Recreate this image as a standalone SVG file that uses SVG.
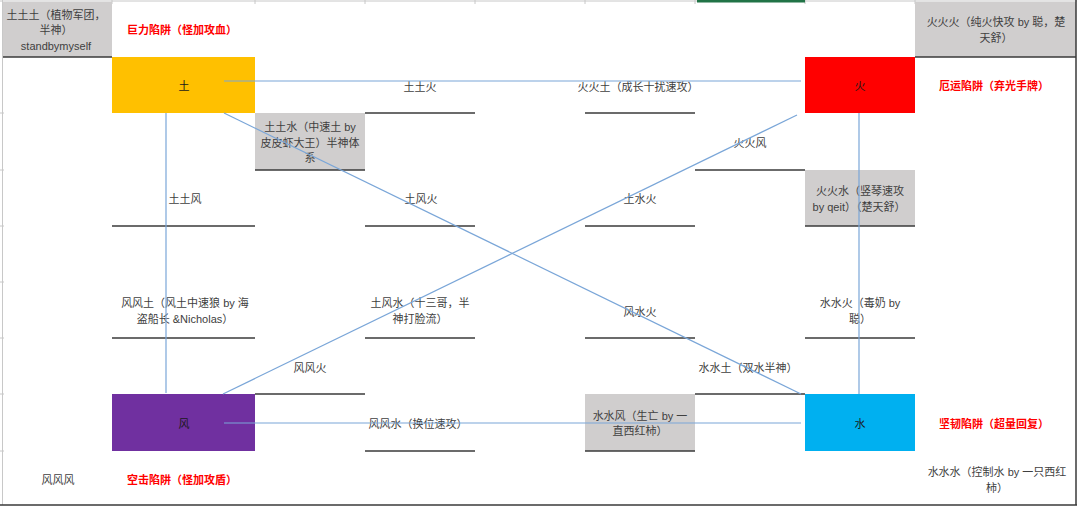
<svg xmlns="http://www.w3.org/2000/svg" width="1080" height="507" viewBox="0 0 1080 507">
<style>
.t{font-family:"Liberation Sans","Noto Sans CJK SC",sans-serif;font-size:11px;fill:#404040;text-anchor:middle}
.r{font-family:"Liberation Sans","Noto Sans CJK SC",sans-serif;font-size:11px;fill:#ff0000;font-weight:bold;text-anchor:middle}
.k{font-family:"Liberation Sans","Noto Sans CJK SC",sans-serif;font-size:11px;fill:#1a1a1a;text-anchor:middle}
.g{fill:#d0cece}
.b{stroke:#3a3a3a;stroke-width:1.5;fill:none}
.c{stroke:#7aa6d8;stroke-width:1.2;fill:none}
.grid{stroke:#c8c8c8;stroke-width:1;fill:none}
</style>
<rect x="0" y="0" width="1080" height="507" fill="#ffffff"/>
<g id="grid">
<line class="grid" x1="0" y1="1" x2="1077" y2="1"/>
<line class="grid" x1="2.5" y1="0" x2="2.5" y2="505"/>
<path class="grid" d="M112,0V4M255,0V4M365,0V4M475,0V4M585,0V4M695,0V4M805,0V4M915,0V4M0,113H4M0,170H4M0,226H4M0,282H4M0,338H4M0,394H4M0,451H4"/>
<rect x="697" y="0" width="108" height="2.5" fill="#217346"/>
</g>
<g id="A1"><rect class="g" x="3" y="2" width="109" height="55"/><line class="b" x1="3" y1="57" x2="112" y2="57"/>
<text class="t" x="56" y="19">土土土（植物军团，</text><text class="t" x="56" y="34">半神）</text><text class="t" x="56" y="50">standbymyself</text></g>
<g id="B1"><text class="r" x="182" y="34">巨力陷阱（怪加攻血）</text></g>
<g id="earth"><rect x="112" y="57" width="143" height="56" fill="#ffc000"/><text class="k" x="184" y="90">土</text></g>
<g id="D2"><line class="b" x1="365" y1="113" x2="475" y2="113"/><text class="t" x="420" y="91">土土火</text></g>
<g id="F2"><line class="b" x1="585" y1="113" x2="695" y2="113"/><text class="t" x="638" y="91">火火土（成长十扰速攻）</text></g>
<g id="fire"><rect x="805" y="57" width="110" height="56" fill="#ff0000"/><text class="k" x="860" y="90">火</text></g>
<g id="I1"><rect class="g" x="915" y="2" width="161" height="55"/><line class="b" x1="915" y1="57" x2="1076" y2="57"/>
<text class="t" x="996" y="26">火火火（纯火快攻 by 聪，楚</text><text class="t" x="996" y="42">天舒）</text></g>
<g id="I2"><text class="r" x="994" y="90">厄运陷阱（弃光手牌）</text></g>
<g id="C3"><rect class="g" x="255" y="113" width="110" height="57"/><line class="b" x1="255" y1="170" x2="365" y2="170"/>
<text class="t" x="310" y="131">土土水（中速土 by</text><text class="t" x="310" y="147">皮皮虾大王）半神体</text><text class="t" x="310" y="162">系</text></g>
<g id="G3"><line class="b" x1="695" y1="170" x2="805" y2="170"/><text class="t" x="750" y="147">火火风</text></g>
<g id="B4"><line class="b" x1="112" y1="226" x2="255" y2="226"/><text class="t" x="185" y="203">土土风</text></g>
<g id="D4"><line class="b" x1="365" y1="226" x2="475" y2="226"/><text class="t" x="421" y="203">土风火</text></g>
<g id="F4"><line class="b" x1="585" y1="226" x2="695" y2="226"/><text class="t" x="640" y="203">土水火</text></g>
<g id="H4"><rect class="g" x="805" y="170" width="110" height="56"/><line class="b" x1="805" y1="226" x2="915" y2="226"/>
<text class="t" x="860" y="195">火火水（竖琴速攻</text><text class="t" x="859" y="211">by qeit）（楚天舒）</text></g>
<g id="B6"><line class="b" x1="112" y1="338" x2="255" y2="338"/>
<text class="t" x="185" y="307">风风土（风土中速狼 by 海</text><text class="t" x="185" y="323">盗船长 &amp;Nicholas）</text></g>
<g id="D6"><line class="b" x1="365" y1="338" x2="475" y2="338"/>
<text class="t" x="420" y="307">土风水（十三哥，半</text><text class="t" x="420" y="323">神打脸流）</text></g>
<g id="F6"><line class="b" x1="585" y1="338" x2="695" y2="338"/><text class="t" x="640" y="316">风水火</text></g>
<g id="H6"><line class="b" x1="805" y1="338" x2="915" y2="338"/>
<text class="t" x="860" y="307">水水火（毒奶 by</text><text class="t" x="860" y="323">聪）</text></g>
<g id="C7"><line class="b" x1="255" y1="394" x2="365" y2="394"/><text class="t" x="310" y="372">风风火</text></g>
<g id="G7"><line class="b" x1="695" y1="394" x2="805" y2="394"/><text class="t" x="748" y="372">水水土（双水半神）</text></g>
<g id="wind"><rect x="112" y="394" width="143" height="57" fill="#7030a0"/><text class="k" x="184" y="428">风</text></g>
<g id="D8"><line class="b" x1="365" y1="451" x2="475" y2="451"/><text class="t" x="418" y="428">风风水（换位速攻）</text></g>
<g id="F8"><rect class="g" x="585" y="394" width="110" height="57"/><line class="b" x1="585" y1="451" x2="695" y2="451"/>
<text class="t" x="640" y="420">水水风（生亡 by 一</text><text class="t" x="640" y="435">直西红柿）</text></g>
<g id="water"><rect x="805" y="394" width="110" height="57" fill="#00b0f0"/><text class="k" x="860" y="428">水</text></g>
<g id="I8"><text class="r" x="994" y="428">坚韧陷阱（超量回复）</text></g>
<g id="A9"><text class="t" x="58" y="484">风风风</text></g>
<g id="B9"><text class="r" x="182" y="484">空击陷阱（怪加攻盾）</text></g>
<g id="I9"><text class="t" x="997" y="476">水水水（控制水 by 一只西红</text><text class="t" x="997" y="492">柿）</text></g>
<g id="connectors">
<line class="c" x1="224" y1="81" x2="801" y2="81"/>
<line class="c" x1="224" y1="113" x2="801" y2="394"/>
<line class="c" x1="166" y1="113" x2="166" y2="393"/>
<line class="c" x1="223" y1="394" x2="797" y2="115"/>
<line class="c" x1="859" y1="113" x2="859" y2="394"/>
<line class="c" x1="224" y1="423" x2="801" y2="423"/>
</g>
<g id="frame"><line class="b" x1="0" y1="505" x2="1077" y2="505"/><line class="b" x1="1076" y1="0" x2="1076" y2="505"/></g>
</svg>
